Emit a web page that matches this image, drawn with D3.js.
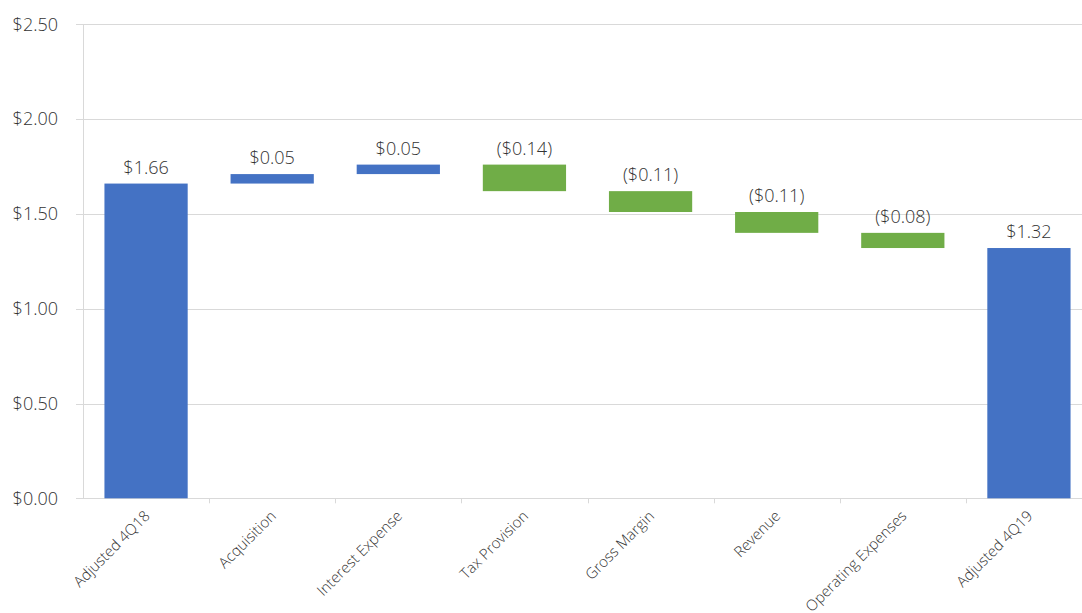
<!DOCTYPE html>
<html>
<head>
<meta charset="utf-8">
<script src="https://cdn.jsdelivr.net/npm/d3@7"></script>
<style>
  body { margin: 0; background: #fff; }
  svg { display: block; font-family: "Open Sans", "Noto Sans", sans-serif; }
  .grid line { stroke: #d9d9d9; }
  .label { fill: #333; font-size: 18px; font-weight: 300; }
</style>
</head>
<body>
<svg id="chart" width="1082" height="613"></svg>
<script>
// Waterfall of adjusted EPS, 4Q18 -> 4Q19
const categories = ['Adjusted 4Q18', 'Acquisition', 'Interest Expense', 'Tax Provision',
                    'Gross Margin', 'Revenue', 'Operating Expenses', 'Adjusted 4Q19'];
const changes    = [1.66, 0.05, 0.05, -0.14, -0.11, -0.11, -0.08, 1.32];
const isTotal    = [true, false, false, false, false, false, false, true];
const yTicks     = [0, 0.5, 1.0, 1.5, 2.0, 2.5];

const blue  = '#4472c4';
const green = '#70ad47';

// running totals -> floating bars
let run = 0;
const bars = categories.map((c, i) => {
  let lo, hi;
  if (isTotal[i]) { lo = 0; hi = changes[i]; run = changes[i]; }
  else { const start = run; run = +(run + changes[i]).toFixed(2); lo = Math.min(start, run); hi = Math.max(start, run); }
  return { cat: c, v: changes[i], lo, hi, total: isTotal[i] };
});

const svg = d3.select('#chart');
const plotL = 83, plotR = 1092, plotT = 24.3, plotB = 498.3;

const x = d3.scaleBand().domain(categories).range([plotL, plotR]).paddingInner(0.34).paddingOuter(0.17);
const y = d3.scaleLinear().domain([0, 2.5]).range([plotB, plotT]);

const fmt = v => v < 0 ? `($${Math.abs(v).toFixed(2)})` : `$${v.toFixed(2)}`;

// gridlines
svg.append('g').attr('class', 'grid')
  .selectAll('line').data(yTicks).join('line')
  .attr('x1', plotL - 7).attr('x2', plotR)
  .attr('y1', d => Math.round(y(d)) + 0.5).attr('y2', d => Math.round(y(d)) + 0.5);

// y axis line
svg.append('line')
  .attr('x1', plotL + 0.5).attr('x2', plotL + 0.5)
  .attr('y1', plotT).attr('y2', plotB)
  .attr('stroke', '#d9d9d9');

// y tick labels
svg.append('g').selectAll('text').data(yTicks).join('text')
  .attr('class', 'label')
  .attr('x', 58).attr('y', d => y(d))
  .attr('dy', '0.35em')
  .attr('text-anchor', 'end')
  .text(d => '$' + d.toFixed(2));

// x category ticks between bands
const step = x.step();
svg.append('g').selectAll('line').data(d3.range(1, categories.length)).join('line')
  .attr('x1', i => Math.round(plotL + i * step) + 0.5).attr('x2', i => Math.round(plotL + i * step) + 0.5)
  .attr('y1', plotB).attr('y2', plotB + 5)
  .attr('stroke', '#d9d9d9');

// bars
svg.append('g').selectAll('rect').data(bars).join('rect')
  .attr('x', d => x(d.cat))
  .attr('width', x.bandwidth())
  .attr('y', d => y(d.hi))
  .attr('height', d => y(d.lo) - y(d.hi))
  .attr('fill', d => d.total || d.v > 0 ? blue : green);

// value labels
svg.append('g').selectAll('text').data(bars).join('text')
  .attr('class', 'label')
  .attr('x', d => x(d.cat) + x.bandwidth() / 2)
  .attr('y', d => y(d.hi) - 10)
  .attr('text-anchor', 'middle')
  .text(d => fmt(d.v));

// rotated category labels
svg.append('g').selectAll('text').data(categories).join('text')
  .attr('class', 'label')
  .style('font-size', '15px')
  .attr('text-anchor', 'end')
  .attr('transform', d => `translate(${x(d) + x.bandwidth() / 2 + 1},${plotB + 15}) rotate(-45)`)
  .attr('dy', '0.35em')
  .text(d => d);
</script>
</body>
</html>
